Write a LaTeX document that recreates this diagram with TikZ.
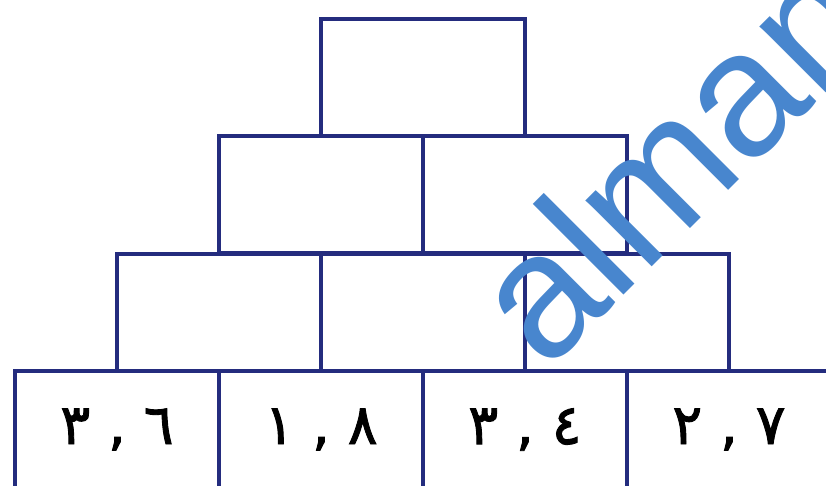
\documentclass[tikz,border=0pt]{standalone}
\usepackage{fontspec}
\setmainfont{Liberation Sans}
\newfontfamily\arabicfont[Script=Arabic]{DejaVu Sans}
\TeXXeTstate=1
\usetikzlibrary{positioning}
\definecolor{boxblue}{RGB}{36,44,126}
\definecolor{markblue}{RGB}{72,134,206}
\tikzset{
  cell/.style={draw=boxblue, line width=3.2pt, minimum width=204pt, minimum height=117pt, inner sep=0pt, outer sep=0pt},
  num/.style={font=\arabicfont\addfontfeature{FakeBold=1.6}\fontsize{56}{60}\selectfont}
}
% decimal written left to right, pushed a little below the middle
\newcommand{\decimalnum}[1]{\raisebox{-6pt}{\beginL #1\endL}}

\begin{document}
\begin{tikzpicture}[x=1pt,y=-1pt]
    \clip (0,0) rectangle (826,485);
    \fill[white] (0,0) rectangle (826,485);

    % Top of the pyramid
    \node[cell, anchor=north west] (r1a) at (321,19) {};

    % Second row
    \node[cell, anchor=north west] (r2a) at (219,136) {};
    \node[cell, right=0pt of r2a] (r2b) {};

    % Third row
    \node[cell, anchor=north west] (r3a) at (117,254) {};
    \node[cell, right=0pt of r3a] (r3b) {};
    \node[cell, right=0pt of r3b] (r3c) {};

    % Bottom row (given numbers)
    \node[cell, num, anchor=north west] (r4a) at (15,371) {\decimalnum{٣ , ٦}};
    \node[cell, num, right=0pt of r4a] (r4b) {\decimalnum{١ , ٨}};
    \node[cell, num, right=0pt of r4b] (r4c) {\decimalnum{٣ , ٤}};
    \node[cell, num, right=0pt of r4c] (r4d) {\decimalnum{٢ , ٧}};

    % Watermark
    \node[text=markblue, font=\fontsize{177}{177}\selectfont, rotate=45, anchor=base west, inner sep=0pt] (mark) at (546,373) {almanahj};
\end{tikzpicture}
\end{document}
